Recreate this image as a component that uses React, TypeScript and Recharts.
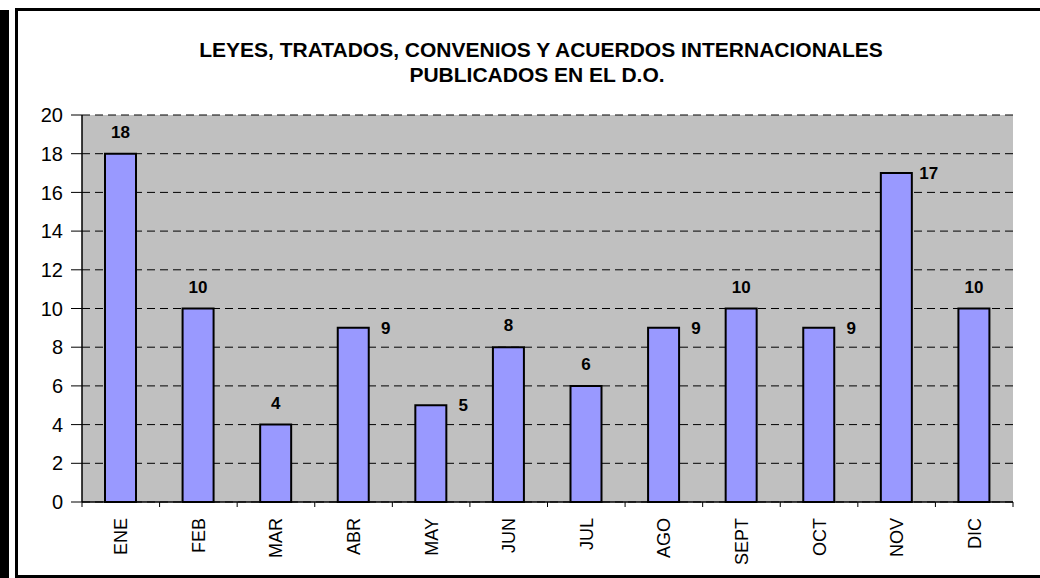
import React from "react";
import { BarChart, Bar, XAxis, YAxis, CartesianGrid, LabelList } from "recharts";

const months = ["ENE", "FEB", "MAR", "ABR", "MAY", "JUN", "JUL", "AGO", "SEPT", "OCT", "NOV", "DIC"];
const counts = [18, 10, 4, 9, 5, 8, 6, 9, 10, 9, 17, 10];
const labelSides = ["top", "top", "top", "right", "right", "top", "top", "right", "top", "right", "right", "top"];
const yTicks = [0, 2, 4, 6, 8, 10, 12, 14, 16, 18, 20];
const titleLines = [
  "LEYES, TRATADOS, CONVENIOS Y ACUERDOS INTERNACIONALES",
  "PUBLICADOS EN EL D.O.",
];

const data = months.map((m, i) => ({ m, v: counts[i] }));

const FONT = "'Liberation Sans', Arial, sans-serif";

const XTick = (props: any) => {
  const { x, y, payload, index, width, visibleTicksCount } = props;
  const half =
    payload && typeof payload.offset === "number" && payload.offset > 0
      ? payload.offset
      : width / (visibleTicksCount || months.length) / 2;
  const ly = y + 16;
  const isLast = index === months.length - 1;
  return (
    <g>
      <line x1={x - half} y1={y} x2={x - half} y2={y + 5} stroke="#000" strokeWidth={1} />
      {isLast && <line x1={x + half} y1={y} x2={x + half} y2={y + 5} stroke="#000" strokeWidth={1} />}
      <text
        x={x}
        y={ly}
        dy="0.36em"
        transform={`rotate(-90 ${x} ${ly})`}
        textAnchor="end"
        fontFamily={FONT}
        fontSize={18}
        fill="#000"
      >
        {payload.value}
      </text>
    </g>
  );
};

const ValueLabel = (props: any) => {
  const { x, y, width, value, index } = props;
  const side = labelSides[index];
  if (side === "right") {
    return (
      <text x={x + width + 17} y={y} dy="0.36em" textAnchor="middle" fontFamily={FONT} fontWeight="bold" fontSize={17} fill="#000">
        {value}
      </text>
    );
  }
  return (
    <text x={x + width / 2} y={y - 22} dy="0.36em" textAnchor="middle" fontFamily={FONT} fontWeight="bold" fontSize={17} fill="#000">
      {value}
    </text>
  );
};

export default function App() {
  return (
    <div
      style={{
        position: "absolute",
        left: 0,
        top: 0,
        width: 1040,
        height: 578,
        background: "#fff",
        overflow: "hidden",
        fontFamily: FONT,
      }}
    >
      <div style={{ position: "absolute", left: 0, top: 10, width: 9, height: 568, background: "#000" }} />
      <div
        style={{
          position: "absolute",
          left: 15,
          top: 8,
          width: 1100,
          height: 570,
          border: "3px solid #000",
          boxSizing: "border-box",
        }}
      />
      <div style={{ position: "absolute", left: 0, top: 0 }}>
        <BarChart
          width={1040}
          height={578}
          data={data}
          margin={{ top: 115, right: 27, bottom: 0, left: 0 }}
        >
          <CartesianGrid vertical={false} stroke="#000" strokeDasharray="8 5" fill="#C0C0C0" fillOpacity={1} />
          <XAxis
            dataKey="m"
            height={76}
            interval={0}
            tickLine={false}
            tickSize={0}
            tickMargin={0}
            axisLine={{ stroke: "#000", strokeWidth: 1.5 }}
            tick={<XTick />}
          />
          <XAxis
            xAxisId="top"
            dataKey="m"
            orientation="top"
            height={0}
            tick={false}
            tickLine={false}
            axisLine={{ stroke: "#808080", strokeWidth: 2.5 }}
          />
          <YAxis
            width={82}
            domain={[0, 20]}
            ticks={yTicks}
            interval={0}
            tickSize={11}
            tickMargin={8}
            tickLine={{ stroke: "#000", strokeWidth: 1 }}
            axisLine={{ stroke: "#000", strokeWidth: 1.5 }}
            tick={{ fill: "#000", fontSize: 20, fontFamily: FONT }}
          />
          <YAxis
            yAxisId="r"
            orientation="right"
            width={0}
            domain={[0, 20]}
            tick={false}
            tickLine={false}
            axisLine={{ stroke: "#808080", strokeWidth: 2.5 }}
          />
          <Bar dataKey="v" fill="#9999FF" stroke="#000" strokeWidth={2} barSize={31} isAnimationActive={false}>
            <LabelList dataKey="v" content={<ValueLabel />} />
          </Bar>
        </BarChart>
      </div>
      <svg width={1040} height={100} style={{ position: "absolute", left: 0, top: 0 }}>
        <text x={541} y={57} textAnchor="middle" fontFamily={FONT} fontWeight="bold" fontSize={21} fill="#000">
          {titleLines[0]}
        </text>
        <text x={537} y={82} textAnchor="middle" fontFamily={FONT} fontWeight="bold" fontSize={21} fill="#000">
          {titleLines[1]}
        </text>
      </svg>
    </div>
  );
}
